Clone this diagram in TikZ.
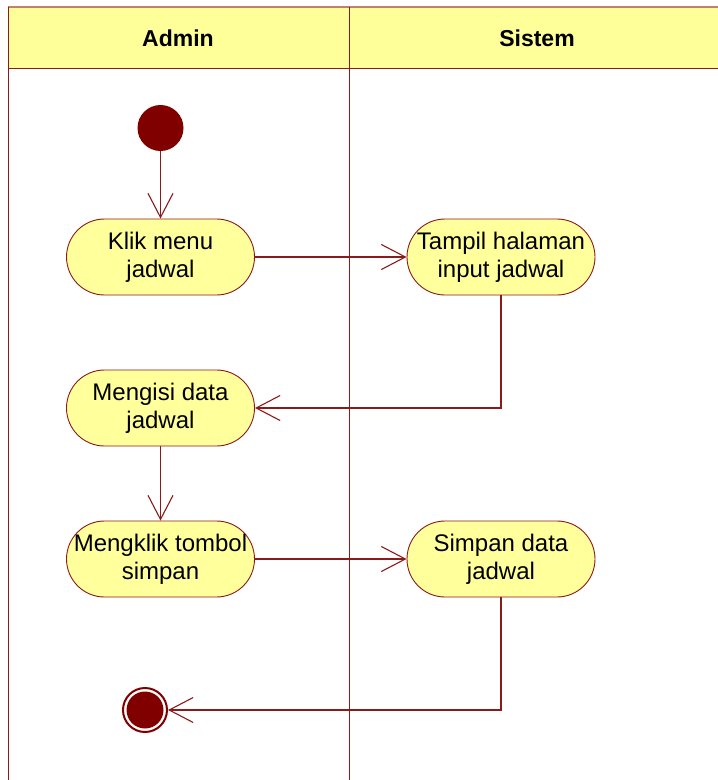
\documentclass[tikz,border=0pt]{standalone}
\usepackage{fontspec}
\setmainfont{Liberation Sans}
\usetikzlibrary{arrows.meta}
\definecolor{lanered}{HTML}{8B1A1A}
\definecolor{actfill}{HTML}{FFFF9C}
\definecolor{headfill}{HTML}{FFFF99}
\definecolor{topline}{HTML}{C0806A}
\definecolor{dotred}{HTML}{800000}
\begin{document}
\begin{tikzpicture}[x=1pt,y=-1pt,
 act/.style={draw=lanered, fill=actfill, line width=0.9pt, rectangle, rounded corners=38pt, minimum width=188pt, minimum height=76pt, inner sep=0pt, align=center, font=\fontsize{24}{28}\selectfont},
 flow/.style={draw=lanered, line width=1.1pt, -{Straight Barb[length=24pt,width=25pt,line width=1.1pt]}},
 lane/.style={draw=lanered, line width=1pt},
 head/.style={font=\bfseries\fontsize{23}{27}\selectfont}]
\useasboundingbox (0,0) rectangle (718,780);
\fill[headfill] (8,8) rectangle (718,68);
\draw[topline, line width=2pt] (8,7) -- (718,7);
\draw[lane] (8,68) -- (718,68);
\draw[lane] (8,7) -- (8,780);
\draw[lane] (349,7) -- (349,780);
\node[head] (hadmin) at (178,38) {Admin};
\node[head] (hsistem) at (537,38) {Sistem};
\node[circle, fill=dotred, minimum size=46pt, inner sep=0pt] (start) at (160.5,128) {};
\node[act] (klik) at (160.5,257) {Klik menu\\jadwal};
\node[act] (tampil) at (501,257) {Tampil halaman\\input jadwal};
\node[act] (mengisi) at (160.5,408) {Mengisi data\\jadwal};
\node[act] (mengklik) at (160.5,559) {Mengklik tombol\\simpan};
\node[act] (simpan) at (501,559) {Simpan data\\jadwal};
\node[circle, draw=dotred, line width=2pt, fill=white, minimum size=44pt, inner sep=0pt] (end) at (145,710) {};
\node[circle, fill=dotred, minimum size=37pt, inner sep=0pt] (endin) at (end.center) {};
\draw[flow] (start) -- (klik);
\draw[flow] (klik) -- (tampil);
\draw[flow] (tampil.south) |- (mengisi.east);
\draw[flow] (mengisi) -- (mengklik);
\draw[flow] (mengklik) -- (simpan);
\draw[flow] (simpan.south) |- (end.east);
\end{tikzpicture}
\end{document}
